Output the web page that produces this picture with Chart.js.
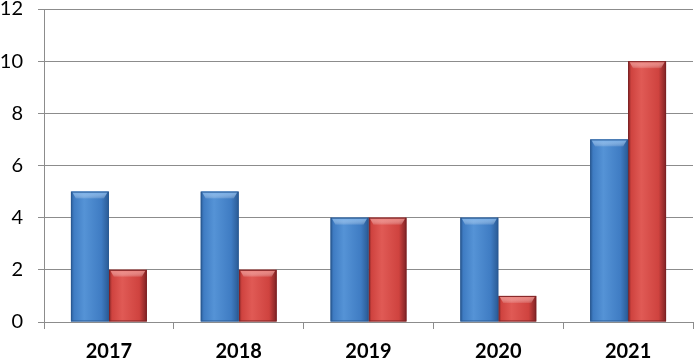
<!DOCTYPE html>
<html>
<head>
<meta charset="utf-8">
<script src="https://cdn.jsdelivr.net/npm/chart.js@4/dist/chart.umd.min.js"></script>
<style>
html,body{margin:0;padding:0;background:#fff;}
#wrap{width:696px;height:362px;position:relative;}
</style>
</head>
<body>
<div id="wrap"><canvas id="c" width="696" height="362"></canvas></div>
<script>
const categories = ["2017", "2018", "2019", "2020", "2021"];
const seriesBlue = [5, 5, 4, 4, 7];
const seriesRed = [2, 2, 4, 1, 10];
const yTicks = [0, 2, 4, 6, 8, 10, 12];

const palettes = [
  {edge: "#2a5a94", mid: "#3f7cc3", light: "#5593d6", top: "#6aa8e8"},
  {edge: "#7e2224", mid: "#cf433f", light: "#e05a55", top: "#ec7a74"}
];

const bevelPlugin = {
  id: "bevel",
  afterDatasetDraw(chart, args) {
    const ctx = chart.ctx;
    const pal = palettes[args.index];
    args.meta.data.forEach(el => {
      const x0 = el.x - el.width / 2, x1 = el.x + el.width / 2;
      const top = Math.min(el.y, el.base), bot = Math.max(el.y, el.base);
      const g = ctx.createLinearGradient(x0, 0, x1, 0);
      g.addColorStop(0, pal.edge);
      g.addColorStop(0.08, pal.mid);
      g.addColorStop(0.35, pal.light);
      g.addColorStop(0.8, pal.mid);
      g.addColorStop(1, pal.edge);
      ctx.save();
      ctx.fillStyle = g;
      ctx.fillRect(x0, top, x1 - x0, bot - top);
      const g2 = ctx.createLinearGradient(0, top, 0, top + 8);
      g2.addColorStop(0, pal.top);
      g2.addColorStop(1, "rgba(255,255,255,0)");
      ctx.fillStyle = g2;
      ctx.beginPath();
      ctx.moveTo(x0 + 1, top);
      ctx.lineTo(x1 - 1, top);
      ctx.lineTo(x1 - 5, top + 7);
      ctx.lineTo(x0 + 5, top + 7);
      ctx.closePath();
      ctx.fill();
      ctx.strokeStyle = pal.edge;
      ctx.lineWidth = 1;
      ctx.strokeRect(x0 + 0.5, top + 0.5, x1 - x0 - 1, bot - top - 1);
      ctx.restore();
    });
  }
};

new Chart(document.getElementById("c"), {
  type: "bar",
  data: {
    labels: categories,
    datasets: [
      {label: "A", data: seriesBlue, backgroundColor: "rgba(0,0,0,0)", borderWidth: 0},
      {label: "B", data: seriesRed, backgroundColor: "rgba(0,0,0,0)", borderWidth: 0}
    ]
  },
  plugins: [bevelPlugin],
  options: {
    responsive: false,
    animation: false,
    devicePixelRatio: 1,
    layout: {padding: {top: 0, right: 3, left: 0, bottom: 0}},
    plugins: {legend: {display: false}, tooltip: {enabled: false}},
    datasets: {bar: {categoryPercentage: 0.585, barPercentage: 1}},
    scales: {
      x: {
        afterFit(axis) { axis.height = 40; },
        grid: {display: true, drawOnChartArea: false, drawTicks: true, tickLength: 7, color: "#8c8c8c", offset: true},
        border: {display: true, color: "#8c8c8c", width: 1},
        ticks: {color: "#000", font: {family: "Lato", size: 20, weight: "bold", lineHeight: 1}, padding: 13}
      },
      y: {
        min: 0, max: 12,
        afterBuildTicks(axis) { axis.ticks = yTicks.map(v => ({value: v})); },
        afterFit(axis) { axis.width = 44; axis.paddingTop = 9; axis.paddingBottom = 0; },
        grid: {color: "#8c8c8c", tickLength: 6, drawTicks: true},
        border: {display: true, color: "#8c8c8c", width: 1},
        ticks: {color: "#000", font: {family: "Lato", size: 20, lineHeight: 1}, padding: 15}
      }
    }
  }
});
</script>
</body>
</html>
